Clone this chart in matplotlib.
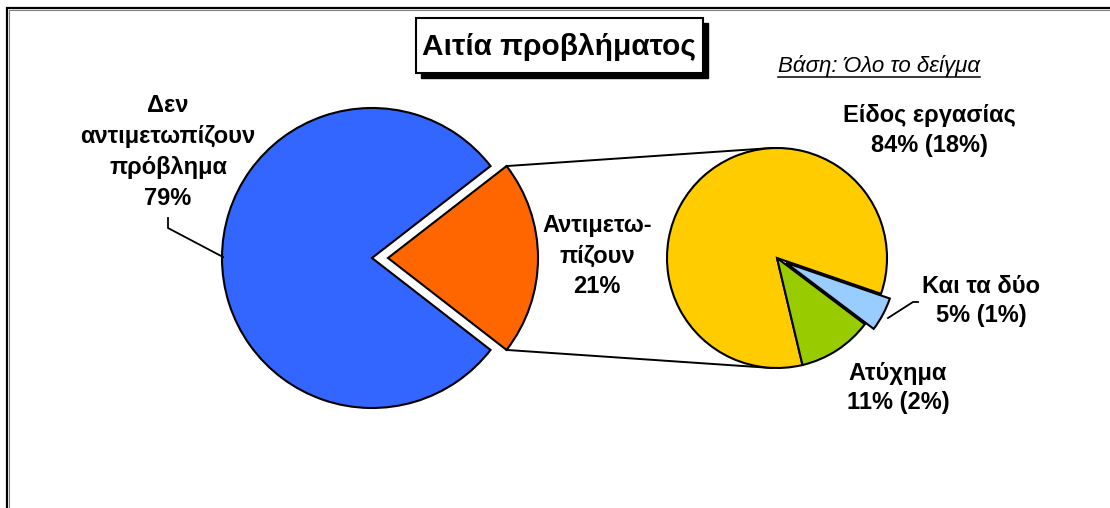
import matplotlib.pyplot as plt
from matplotlib.patches import Rectangle
import numpy as np

# DATA
main_labels = [["Δεν", "αντιμετωπίζουν", "πρόβλημα"], ["Αντιμετω-", "πίζουν"]]
main_values = [79, 21]
sub_labels = ["Είδος εργασίας", "Ατύχημα", "Και τα δύο"]
sub_values = [84, 11, 5]
sub_overall = [18, 2, 1]
title_text = "Αιτία προβλήματος"
base_text = "Βάση: Όλο το δείγμα"

# STYLE
W, H = 1110, 508
MAIN_COLORS = ["#3366FF", "#FF6600"]
SUB_COLORS = ["#FFCC00", "#99CC00", "#99CCFF"]
FONT = "Liberation Sans"
LABEL_SIZE = 17
EDGE = dict(edgecolor="black", linewidth=1.5)


def py(y):
    """image row -> data y (y axis points up)"""
    return H - y


fig = plt.figure(figsize=(W / 100, H / 100), dpi=100)
fig.patch.set_facecolor("white")
ax = fig.add_axes([0, 0, 1, 1])

# main pie: "other" slice centred on the right
main_start = main_values[1] / sum(main_values) * 360 / 2
main_wedges, _ = ax.pie(main_values, colors=MAIN_COLORS, startangle=main_start,
                        explode=[0, 16], center=(372, py(258)), radius=150,
                        wedgeprops=EDGE)

# secondary pie
sub_wedges, _ = ax.pie(sub_values, colors=SUB_COLORS, startangle=-19,
                       explode=[0, 0, 10], center=(777, py(258)), radius=110,
                       wedgeprops=EDGE)

ax.set_xlim(0, W)
ax.set_ylim(0, H)
ax.set_aspect("equal")
ax.axis("off")

# connector lines from the exploded slice to the secondary pie
ow = main_wedges[1]
sc = sub_wedges[0].center
sr = sub_wedges[0].r
for ang, ty in [(ow.theta2, sc[1] + sr), (ow.theta1, sc[1] - sr)]:
    x0 = ow.center[0] + ow.r * np.cos(np.radians(ang))
    y0 = ow.center[1] + ow.r * np.sin(np.radians(ang))
    ax.plot([x0, sc[0] - 5], [y0, ty], color="black", lw=1.4, zorder=0)


def stacked(x, y_base, lines, step=30.5):
    for i, line in enumerate(lines):
        ax.text(x, py(y_base + i * step), line, ha="center", va="baseline",
                fontsize=LABEL_SIZE, fontweight="bold", family=FONT, zorder=5)


stacked(168, 112, main_labels[0] + [f"{main_values[0]}%"], step=31)
stacked(597, 232, main_labels[1] + [f"{main_values[1]}%"])
stacked(929, 122, [sub_labels[0], f"{sub_values[0]}% ({sub_overall[0]}%)"], step=30)
stacked(898, 380, [sub_labels[1], f"{sub_values[1]}% ({sub_overall[1]}%)"], step=28.5)
stacked(981, 293, [sub_labels[2], f"{sub_values[2]}% ({sub_overall[2]}%)"], step=29)

# leader lines
ax.plot([168, 168, 223], [py(218), py(228), py(257)], color="black", lw=1.3)
ax.plot([918, 913, 888], [py(302), py(302), py(318)], color="black", lw=1.3)

# title box with shadow
ax.add_patch(Rectangle((421, py(78)), 287, 55, facecolor="black", edgecolor="black", zorder=6))
ax.add_patch(Rectangle((416, py(73)), 287, 55, facecolor="white", edgecolor="black",
                       lw=1.5, zorder=7))
ax.text(559, py(55), title_text, ha="center", va="baseline", fontsize=21.5,
        fontweight="bold", family=FONT, zorder=8)

# base note (italic, underlined)
bt = ax.text(879, py(72), base_text, ha="center", va="baseline", fontsize=16,
             style="italic", family=FONT)
fig.canvas.draw()
bb = bt.get_window_extent().transformed(ax.transData.inverted())
ax.plot([bb.x0, bb.x1], [py(77), py(77)], color="black", lw=1.1)

# outer chart border
ax.add_patch(Rectangle((7, -20), W + 20, py(8) + 20, facecolor="none",
                       edgecolor="black", lw=1.6, zorder=9))
ax.add_patch(Rectangle((9, -20), W + 20, py(10) + 20, facecolor="none",
                       edgecolor="#808080", lw=0.8, zorder=9))

fig.savefig("out.png", dpi=100)
